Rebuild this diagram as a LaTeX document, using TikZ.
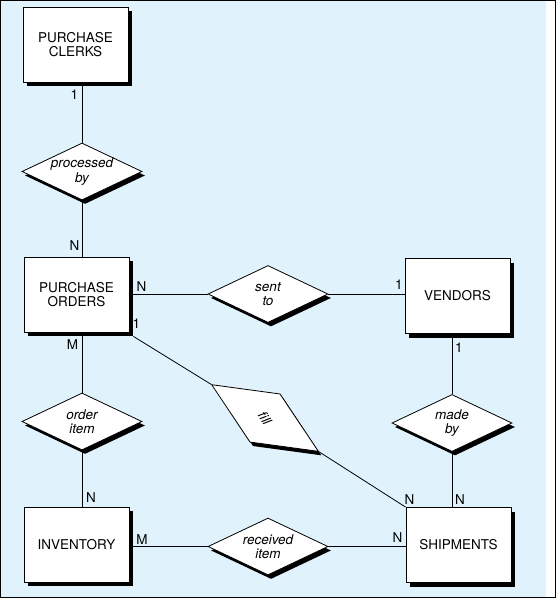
\documentclass[tikz,border=0pt]{standalone}
\usepackage{fontspec}
\setsansfont{TeX Gyre Heros}
\usetikzlibrary{shapes.geometric,shadows,calc}
\definecolor{erbg}{RGB}{224,243,253}
\newcommand{\erfont}{\sffamily\fontsize{13.5}{14.5}\selectfont}
\tikzset{
  entity/.style={draw, fill=white, rectangle, minimum width=105pt, minimum height=75pt,
    align=center, drop shadow={shadow xshift=4pt, shadow yshift=-4pt, fill=black, opacity=1}},
  relation/.style={draw, fill=white, diamond, aspect=2.1, inner sep=0pt, minimum width=120pt,
    minimum height=57pt, align=center, font=\erfont\itshape,
    drop shadow={shadow xshift=3pt, shadow yshift=-4pt, fill=black, opacity=1}},
  card/.style={inner sep=0pt, font=\erfont}
}

\begin{document}
\begin{tikzpicture}[x=1pt, y=-1pt, line width=0.8pt, font=\erfont]
  \fill[erbg] (0,0) rectangle (546,597);
  \draw[line width=1pt] (0.5,0.5) rectangle (555.5,597.5);
  \useasboundingbox (0,0) rectangle (556,598);

  % entities
  \node at (75.5, 44.5) [entity] (clerks) {PURCHASE\\CLERKS};
  \node at (76.5, 294.5) [entity] (orders) {PURCHASE\\ORDERS};
  \node at (457.5, 296) [entity] (vendors) {VENDORS};
  \node at (76.5, 544.5) [entity] (inventory) {INVENTORY};
  \node at (458.5, 545) [entity] (shipments) {SHIPMENTS};

  % relationships
  \node at (82, 171.5) [relation] (processed) {processed\\by};
  \node at (268, 294) [relation] (sent) {sent\\to};
  \node at (82, 421.5) [relation] (orderitem) {order\\item};
  \node at (452, 423) [relation] (made) {made\\by};
  \node at (268, 546.5) [relation] (received) {received\\item};
  \node at (265, 418) [relation, rotate=-32, minimum width=126pt] (fill) {\rotatebox{-25}{fill}};

  \foreach \rel / \ea / \eb in {processed/clerks/orders, orderitem/orders/inventory, made/vendors/shipments} {
    \draw (\rel.north) -- (\rel.north |- \ea.south);
    \draw (\rel.south) -- (\rel.south |- \eb.north);
  }
  \foreach \rel / \ea / \eb in {sent/orders/vendors, received/inventory/shipments} {
    \draw (\rel.west) -- (\rel.west -| \ea.east);
    \draw (\rel.east) -- (\rel.east -| \eb.west);
  }
  \draw ($ (orders.south east) + (4, 4) $) -- (fill.west);
  \draw (fill.east) -- (shipments.north west);

  % cardinalities
  \node at (74.5, 94.5) [card] (c1) {1};
  \node at (74.5, 245.5) [card] (c2) {N};
  \node at (141.5, 286.5) [card] (c3) {N};
  \node at (399, 284.5) [card] (c4) {1};
  \node at (136.5, 323.5) [card] (c5) {1};
  \node at (72.5, 345) [card] (c6) {M};
  \node at (91, 497.5) [card] (c7) {N};
  \node at (142, 539.5) [card] (c8) {M};
  \node at (397.5, 538) [card] (c9) {N};
  \node at (409.5, 499.5) [card] (c10) {N};
  \node at (460, 499.5) [card] (c11) {N};
  \node at (459, 347.5) [card] (c12) {1};
\end{tikzpicture}
\end{document}
